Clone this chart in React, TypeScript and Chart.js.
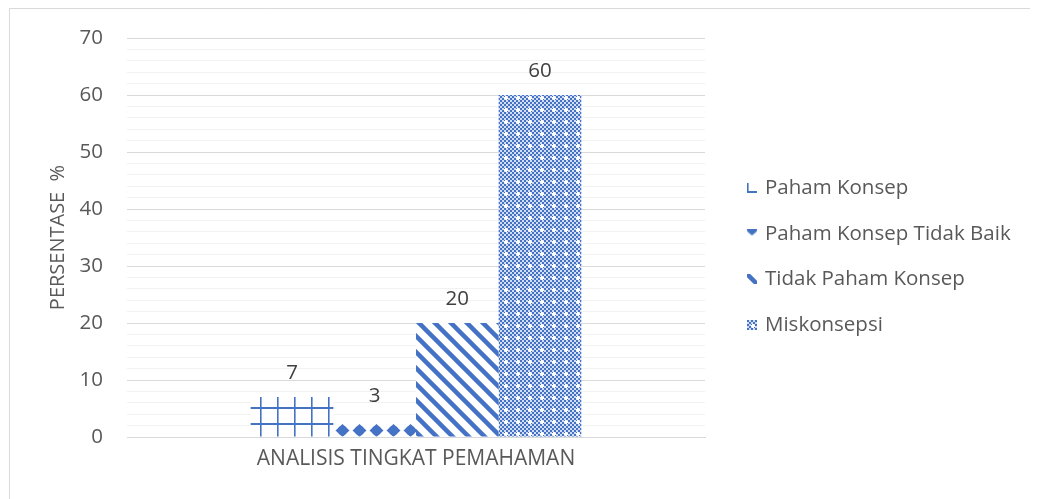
import React, { useEffect, useRef } from "react";
import { Chart, registerables } from "chart.js";

Chart.register(...registerables);

const categories = ["ANALISIS TINGKAT PEMAHAMAN"];
const seriesLabels = ["Paham Konsep", "Paham Konsep Tidak Baik", "Tidak Paham Konsep", "Miskonsepsi"];
const pahamKonsep = [7];
const pahamKonsepTidakBaik = [3];
const tidakPahamKonsep = [20];
const miskonsepsi = [60];
const yMin = 0;
const yMax = 70;
const yMajorStep = 10;
const yMinorStep = 2;
const yTitle = "PERSENTASE  %";

const BLUE = "#4472C4";
const FONT = "'Open Sans', 'Noto Sans', sans-serif";
const FS = 20.5;

// pattern origin offsets (bars) and legend-swatch origin offsets (relative to swatch box)
const patternOffsets = [[14, 15], [3, 6], [0, 0], [0, 0]];
const swatchOrigins = [[0, 8], [-3.5, -8.5], [0, 0], [0, 0]];

function tile(w: number, h: number, draw: (ctx: CanvasRenderingContext2D) => void) {
  const c = document.createElement("canvas");
  c.width = w;
  c.height = h;
  const ctx = c.getContext("2d")!;
  ctx.fillStyle = "#ffffff";
  ctx.fillRect(0, 0, w, h);
  draw(ctx);
  return c;
}

function makeTiles() {
  const grid = tile(17, 16, (ctx) => {
    ctx.fillStyle = BLUE;
    ctx.fillRect(0, 0, 1.6, 16);
    ctx.fillRect(0, 0, 17, 2);
  });
  const diamonds = tile(17, 17, (ctx) => {
    ctx.fillStyle = BLUE;
    ctx.beginPath();
    ctx.moveTo(8.5, 2);
    ctx.lineTo(15.5, 8.5);
    ctx.lineTo(8.5, 15);
    ctx.lineTo(1.5, 8.5);
    ctx.closePath();
    ctx.fill();
    ctx.beginPath();
    ctx.arc(8.5, 8.5, 4.8, 0, Math.PI * 2);
    ctx.fill();
  });
  const diag = tile(16, 16, (ctx) => {
    ctx.strokeStyle = BLUE;
    ctx.lineWidth = 4.5;
    for (const off of [-16, 0, 16]) {
      ctx.beginPath();
      ctx.moveTo(off - 4, -4);
      ctx.lineTo(off + 20, 20);
      ctx.stroke();
    }
  });
  const checker = tile(12, 12, (ctx) => {
    for (let i = 0; i < 6; i++) {
      for (let j = 0; j < 6; j++) {
        ctx.fillStyle = (i + j) % 2 === 0 ? BLUE : "#d3ddf2";
        ctx.fillRect(i * 2, j * 2, 2, 2);
      }
    }
    ctx.fillStyle = "#ffffff";
    ctx.fillRect(5, 4, 2, 4);
    ctx.fillRect(4, 5, 4, 2);
  });
  return [grid, diamonds, diag, checker];
}

export default function App() {
  const ref = useRef<HTMLCanvasElement>(null);

  useEffect(() => {
    const canvas = ref.current!;
    const ctx = canvas.getContext("2d")!;
    const tiles = makeTiles();
    const patterns = tiles.map((t, i) => {
      const p = ctx.createPattern(t, "repeat")!;
      p.setTransform(new DOMMatrix().translateSelf(patternOffsets[i][0], patternOffsets[i][1]));
      return p;
    });
    const values = [pahamKonsep, pahamKonsepTidakBaik, tidakPahamKonsep, miskonsepsi];

    const borderPlugin = {
      id: "frame",
      beforeDraw(chart: any) {
        const c = chart.ctx;
        c.save();
        c.fillStyle = "#ffffff";
        c.fillRect(0, 0, chart.width, chart.height);
        c.strokeStyle = "#d9d9d9";
        c.lineWidth = 1;
        c.beginPath();
        c.moveTo(1.5, chart.height);
        c.lineTo(1.5, 0.5);
        c.lineTo(chart.width, 0.5);
        c.stroke();
        c.restore();
      },
    };

    const labelPlugin = {
      id: "valueLabels",
      afterDatasetsDraw(chart: any) {
        const c = chart.ctx;
        c.save();
        c.font = `${FS}px ${FONT}`;
        c.fillStyle = "#404040";
        c.textAlign = "center";
        c.textBaseline = "middle";
        chart.data.datasets.forEach((ds: any, i: number) => {
          const meta = chart.getDatasetMeta(i);
          meta.data.forEach((el: any, j: number) => {
            c.fillText(String(ds.data[j]), el.x, el.y - 24);
          });
        });
        c.restore();
      },
    };

    const legendPlugin = {
      id: "sideLegend",
      afterDraw(chart: any) {
        const c = chart.ctx;
        const boxX = 739;
        const textX = 757;
        const top = 180;
        const gap = 45.7;
        c.save();
        c.font = `${FS}px ${FONT}`;
        c.textBaseline = "middle";
        c.textAlign = "left";
        chart.data.datasets.forEach((ds: any, i: number) => {
          const y = top + i * gap;
          const boxY = Math.round(y - 5);
          const tx = boxX + swatchOrigins[i][0] - patternOffsets[i][0];
          const ty = boxY + swatchOrigins[i][1] - patternOffsets[i][1];
          c.save();
          c.translate(tx, ty);
          c.fillStyle = ds.backgroundColor;
          c.fillRect(boxX - tx, boxY - ty, 10, 10);
          c.restore();
          c.fillStyle = "#595959";
          c.fillText(ds.label, textX, y);
        });
        c.restore();
      },
    };

    const chart = new Chart(canvas, {
      type: "bar",
      data: {
        labels: categories,
        datasets: seriesLabels.map((label, i) => ({
          label,
          data: values[i],
          backgroundColor: patterns[i] as any,
          borderWidth: 0,
          barPercentage: 1,
          categoryPercentage: 0.572,
        })),
      },
      options: {
        animation: false,
        responsive: false,
        devicePixelRatio: 1,
        layout: { padding: { top: 30, right: 333, bottom: 0, left: 0 } },
        plugins: { legend: { display: false }, tooltip: { enabled: false } },
        scales: {
          x: {
            grid: { display: false, drawTicks: false },
            border: { display: true, color: "#d9d9d9", width: 1 },
            ticks: { color: "#595959", font: { family: FONT, size: 21 }, padding: 9 },
            afterFit(scale: any) {
              scale.height = 62;
              scale.paddingLeft = 0;
              scale.paddingRight = 0;
            },
          },
          y: {
            min: yMin,
            max: yMax,
            border: { display: false },
            grid: {
              drawTicks: false,
              color: (c: any) => (c.tick && c.tick.value % yMajorStep === 0 ? "#d9d9d9" : "#f2f2f2"),
            },
            ticks: {
              stepSize: yMinorStep,
              autoSkip: false,
              padding: 24,
              color: "#595959",
              font: { family: FONT, size: FS },
              callback: (v: any) => (Number(v) % yMajorStep === 0 ? String(v) : ""),
            },
            title: {
              display: true,
              text: yTitle,
              color: "#595959",
              font: { family: FONT, size: 20 },
              padding: { top: 38, bottom: 0 },
            },
            afterFit(scale: any) {
              scale.width = 119;
              scale.paddingTop = 0;
              scale.paddingBottom = 0;
            },
          },
        },
      },
      plugins: [borderPlugin, labelPlugin, legendPlugin],
    });
    return () => chart.destroy();
  }, []);

  return (
    <div style={{ width: 1030, height: 491 }}>
      <canvas ref={ref} width={1030} height={491} style={{ display: "block" }} />
    </div>
  );
}
